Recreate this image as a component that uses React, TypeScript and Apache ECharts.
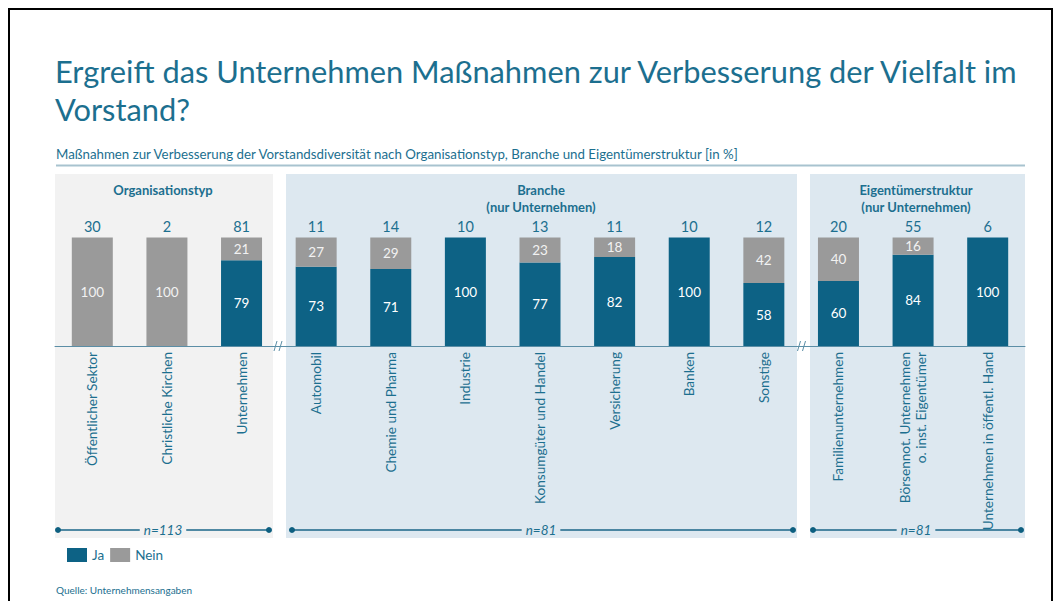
import React, { useEffect, useRef } from "react";
import * as echarts from "echarts";

const categories = [
  "Öffentlicher Sektor",
  "Christliche Kirchen",
  "Unternehmen",
  "Automobil",
  "Chemie und Pharma",
  "Industrie",
  "Konsumgüter und Handel",
  "Versicherung",
  "Banken",
  "Sonstige",
  "Familienunternehmen",
  "Börsennot. Unternehmen\no. inst. Eigentümer",
  "Unternehmen in öffentl. Hand",
];
const jaValues = [0, 0, 79, 73, 71, 100, 77, 82, 100, 58, 60, 84, 100];
const neinValues = [100, 100, 21, 27, 29, 0, 23, 18, 0, 42, 40, 16, 0];
const counts = ["30", "2", "81", "11", "14", "10", "13", "11", "10", "12", "20", "55", "6"];
const groupTitles = [
  { lines: ["Organisationstyp"], n: "n=113" },
  { lines: ["Branche", "(nur Unternehmen)"], n: "n=81" },
  { lines: ["Eigentümerstruktur", "(nur Unternehmen)"], n: "n=81" },
];

const TEAL = "#0d6285";
const TEXT = "#1c6f8f";
const GRAY = "#9a9a9a";
const FONT = "Lato, 'Open Sans', sans-serif";

export default function App() {
  const ref = useRef<HTMLDivElement>(null);
  useEffect(() => {
    if (!ref.current) return;
    const chart = echarts.init(ref.current, undefined, { renderer: "svg" });

    const panels = [
      { x: 55, w: 218, fill: "#f2f2f2", cx: 163, d1: 58, d2: 269 },
      { x: 286, w: 511, fill: "#dde8f0", cx: 541, d1: 292, d2: 793 },
      { x: 810, w: 215, fill: "#dde8f0", cx: 916, d1: 813, d2: 1021 },
    ];
    const gfx: any[] = [];
    gfx.push({
      type: "rect",
      shape: { x: 9, y: 9, width: 1043, height: 640 },
      style: { fill: "none", stroke: "#000", lineWidth: 2 },
    });
    gfx.push({
      type: "text",
      left: 55,
      top: 52,
      style: {
        text: "Ergreift das Unternehmen Maßnahmen zur Verbesserung der Vielfalt im\nVorstand?",
        fill: TEXT,
        font: `30.8px ${FONT}`,
        lineHeight: 38,
      },
    });
    gfx.push({
      type: "text",
      left: 56,
      top: 147,
      style: {
        text: "Maßnahmen zur Verbesserung der Vorstandsdiversität nach Organisationstyp, Branche und Eigentümerstruktur [in %]",
        fill: TEXT,
        font: `13.3px ${FONT}`,
      },
    });
    gfx.push({
      type: "line",
      shape: { x1: 56, y1: 165.5, x2: 1025, y2: 165.5 },
      style: { stroke: "#a8c3cf", lineWidth: 2 },
    });
    panels.forEach((p, i) => {
      gfx.push({
        type: "rect",
        z: -10,
        shape: { x: p.x, y: 174, width: p.w, height: 364 },
        style: { fill: p.fill },
      });
      const g = groupTitles[i];
      g.lines.forEach((t, j) => {
        gfx.push({
          type: "text",
          x: p.cx,
          y: 190 + j * 17,
          style: {
            text: t,
            fill: TEXT,
            font: `bold 13px ${FONT}`,
            textAlign: "center",
            textVerticalAlign: "middle",
          },
        });
      });
      gfx.push({
        type: "line",
        shape: { x1: p.d1, y1: 530, x2: p.d2, y2: 530 },
        style: { stroke: "#1a6688", lineWidth: 1.5 },
      });
      gfx.push({ type: "circle", shape: { cx: p.d1, cy: 530, r: 3 }, style: { fill: "#0d5f80" } });
      gfx.push({ type: "circle", shape: { cx: p.d2, cy: 530, r: 3 }, style: { fill: "#0d5f80" } });
      gfx.push({
        type: "text",
        x: p.cx,
        y: 530,
        style: {
          text: g.n,
          fill: TEXT,
          font: `italic 13.5px ${FONT}`,
          textAlign: "center",
          textVerticalAlign: "middle",
          backgroundColor: p.fill,
          padding: [0, 4],
        },
      });
    });
    [278.5, 802].forEach((bx) => {
      gfx.push({
        type: "line",
        shape: { x1: bx - 4.5, y1: 351, x2: bx - 1.5, y2: 341 },
        style: { stroke: "#5b8ea6", lineWidth: 1 },
      });
      gfx.push({
        type: "line",
        shape: { x1: bx + 0.5, y1: 351, x2: bx + 3.5, y2: 341 },
        style: { stroke: "#5b8ea6", lineWidth: 1 },
      });
    });
    gfx.push({
      type: "text",
      left: 56,
      top: 585,
      style: { text: "Quelle: Unternehmensangaben", fill: TEXT, font: `10px ${FONT}` },
    });

    const segLabel = (color: string) => ({
      show: true,
      position: "inside",
      color,
      fontSize: 13.5,
      fontFamily: FONT,
      formatter: (p: any) => (p.value ? String(p.value) : ""),
    });

    chart.setOption({
      animation: false,
      textStyle: { fontFamily: FONT },
      grid: { left: 55, right: 37, top: 237.5, height: 108.5 },
      legend: {
        data: ["Ja", "Nein"],
        left: 62,
        top: 543,
        icon: "rect",
        itemWidth: 20,
        itemHeight: 14,
        itemGap: 6,
        textStyle: { color: TEXT, fontSize: 13.5, fontFamily: FONT },
      },
      xAxis: [
        {
          type: "category",
          data: categories,
          axisTick: { show: false },
          axisLine: { lineStyle: { color: "#5b8ea6", width: 1 } },
          axisLabel: {
            interval: 0,
            rotate: 90,
            margin: 6,
            color: TEXT,
            fontSize: 13.6,
            fontFamily: FONT,
            lineHeight: 16,
          },
        },
        {
          type: "category",
          position: "top",
          data: counts,
          axisTick: { show: false },
          axisLine: { show: false },
          axisLabel: { interval: 0, margin: 4, color: TEXT, fontSize: 14.5, fontFamily: FONT },
        },
      ],
      yAxis: { type: "value", min: 0, max: 100, show: false },
      series: [
        {
          name: "Ja",
          type: "bar",
          stack: "s",
          barWidth: 41,
          data: jaValues,
          itemStyle: { color: TEAL },
          label: segLabel("#ffffff"),
        },
        {
          name: "Nein",
          type: "bar",
          stack: "s",
          barWidth: 41,
          data: neinValues,
          itemStyle: { color: GRAY },
          label: segLabel("#f2f2f2"),
        },
      ],
      graphic: { elements: gfx },
    });
    return () => chart.dispose();
  }, []);
  return (
    <div
      ref={ref}
      style={{ position: "fixed", left: 0, top: 0, width: 1062, height: 601, background: "#fff" }}
    />
  );
}
